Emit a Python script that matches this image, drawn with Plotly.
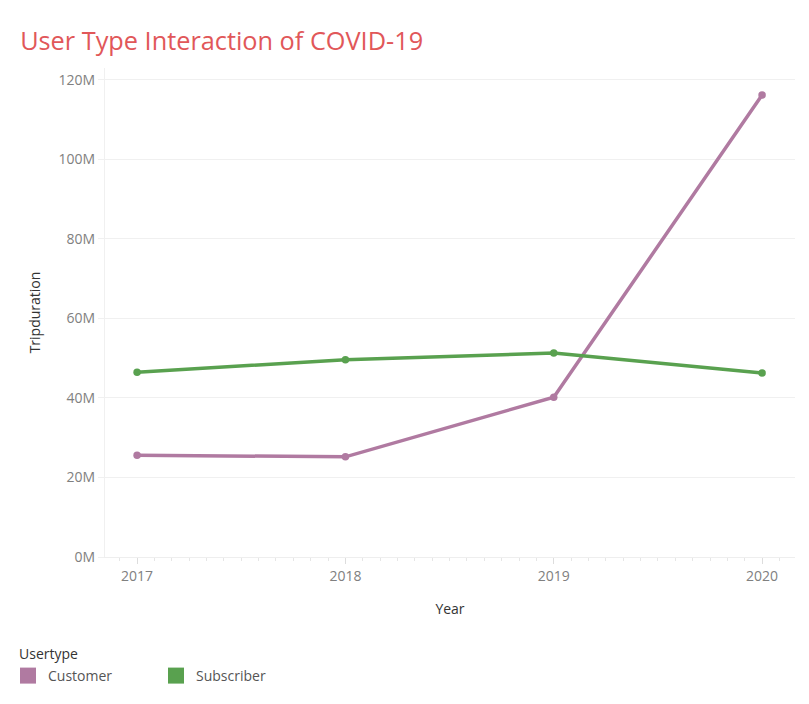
import plotly.graph_objects as go

years = [2017, 2018, 2019, 2020]
customer = [25.6e6, 25.2e6, 40.2e6, 116.2e6]
subscriber = [46.5e6, 49.6e6, 51.3e6, 46.3e6]

y_ticks = [0, 20e6, 40e6, 60e6, 80e6, 100e6, 120e6]
y_labels = ["0M", "20M", "40M", "60M", "80M", "100M", "120M"]

purple = "#B07AA1"
green = "#59A14F"
font = "Open Sans"

fig = go.Figure()
for name, vals, col in [("Customer", customer, purple), ("Subscriber", subscriber, green)]:
    fig.add_trace(go.Scatter(x=years, y=vals, mode="lines+markers", name=name,
                             line=dict(color=col, width=3.5),
                             marker=dict(color=col, size=7.5), showlegend=False))
    # square swatch for legend
    fig.add_trace(go.Scatter(x=[None], y=[None], mode="markers", name=name,
                             marker=dict(color=col, size=17, symbol="square")))

fig.update_layout(
    width=809, height=704,
    plot_bgcolor="white", paper_bgcolor="white",
    margin=dict(l=97, r=22, t=60, b=155),
    font=dict(family=font, color="#808080", size=14),
    title=dict(text="User Type Interaction of COVID-19", x=0.015, xanchor="left",
               y=1 - 33 / 704, yanchor="middle",
               font=dict(family=font, size=25.3, color="#E15759")),
    legend=dict(orientation="h", x=0.0, xref="container", y=1 - 668 / 704,
                yref="container", xanchor="left", yanchor="middle",
                font=dict(size=14, color="#555555"),
                itemwidth=30, entrywidth=103, itemsizing="trace", tracegroupgap=0),
    annotations=[dict(text="Usertype", xref="paper", yref="paper",
                      x=-88 / 690, y=-(645 - 549) / 489, xanchor="left", yanchor="middle",
                      showarrow=False, font=dict(size=14, color="#333333"))],
)

fig.update_xaxes(
    range=[2016.846, 2020.158], tickvals=years, ticktext=[str(y) for y in years],
    showgrid=False, zeroline=False, showline=True, linecolor="#eeeeee",
    ticks="outside", ticklen=6, tickcolor="#dddddd",
    minor=dict(dtick=1 / 12, tick0=2017, ticks="outside", ticklen=3, tickcolor="#e6e6e6"),
    title=dict(text="Year", font=dict(size=14, color="#333333"), standoff=20),
)
fig.update_yaxes(
    range=[0, 123e6], tickvals=y_ticks, ticktext=y_labels,
    showgrid=True, gridcolor="#f0f0f0", gridwidth=1.3,
    zeroline=True, zerolinecolor="#eeeeee", showline=True, linecolor="#f0f0f0",
    ticks="outside", ticklen=6, tickcolor="#f0f0f0",
    title=dict(text="Tripduration", font=dict(size=14, color="#333333"), standoff=14),
)

fig.write_html("out.html")
